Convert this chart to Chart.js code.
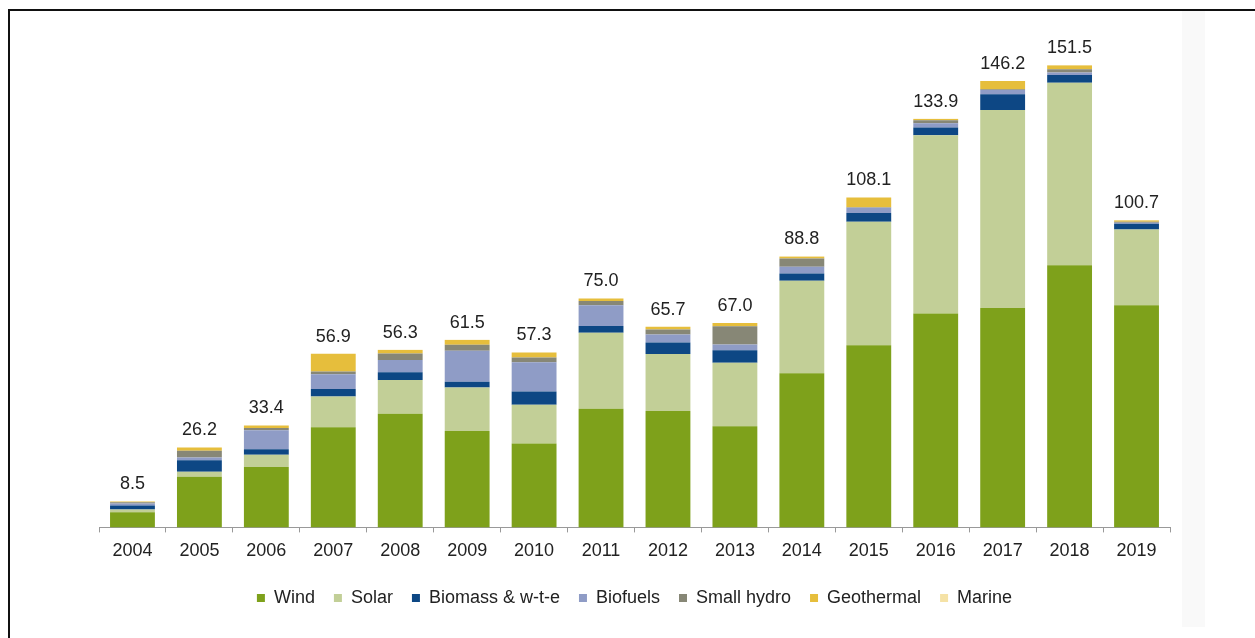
<!DOCTYPE html>
<html lang="en">
<head>
    <meta charset="UTF-8">
    <title>Investment by sector</title>
    <script src="https://cdn.jsdelivr.net/npm/chart.js"></script>
    <style>
        body { margin: 0; background: #fff; }
        .frame {
            position: absolute; left: 8px; top: 9px;
            width: 1300px; height: 700px;
            border: 2px solid #111;
        }
        .strip {
            position: absolute; left: 1182px; top: 11px;
            width: 23px; height: 616px;
            background: #f9f9f9;
        }
        .chart-box {
            position: absolute; left: 0; top: 0;
            width: 1255px; height: 638px;
        }
    </style>
</head>
<body>
    <div class="frame"></div>
    <div class="strip"></div>
    <div class="chart-box">
        <canvas id="sectorChart"></canvas>
    </div>

    <script>
        // values (USD bn)
        const years = ['2004', '2005', '2006', '2007', '2008', '2009', '2010', '2011',
                       '2012', '2013', '2014', '2015', '2016', '2017', '2018', '2019'];
        const wind       = [5.0, 16.6, 19.8, 32.8, 37.2, 31.6, 27.5, 38.9, 38.1, 33.1, 50.5, 59.7, 70.1, 71.9, 85.9, 72.8];
        const solar      = [0.9, 1.6, 4.0, 10.1, 11.1, 14.2, 12.7, 24.9, 18.7, 20.8, 30.3, 40.4, 58.4, 64.8, 59.8, 24.8];
        const biomass    = [1.3, 3.8, 1.8, 2.4, 2.5, 1.9, 4.3, 2.2, 3.8, 4.1, 2.4, 2.9, 2.5, 5.2, 2.5, 1.9];
        const biofuels   = [0.6, 0.9, 6.2, 4.9, 4.0, 10.2, 9.6, 6.8, 2.6, 1.9, 2.2, 1.7, 1.4, 1.4, 0.8, 0.3];
        const smallHydro = [0.4, 2.2, 0.8, 0.9, 2.2, 1.9, 1.6, 1.4, 1.6, 6.0, 2.7, 0.2, 1.0, 0.2, 1.1, 0.3];
        const geothermal = [0.3, 1.1, 0.8, 5.8, 1.1, 1.6, 1.6, 0.8, 0.9, 1.1, 0.6, 3.2, 0.4, 2.7, 1.2, 0.4];
        const marine     = [0, 0, 0, 0, 0.1, 0.1, 0, 0, 0, 0, 0.1, 0, 0.1, 0, 0.2, 0.2];
        const totalLabels = ['8.5', '26.2', '33.4', '56.9', '56.3', '61.5', '57.3', '75.0',
                             '65.7', '67.0', '88.8', '108.1', '133.9', '146.2', '151.5', '100.7'];

        const series = [
            { label: 'Wind', data: wind, color: '#7ea11b' },
            { label: 'Solar', data: solar, color: '#c2cf97' },
            { label: 'Biomass & w-t-e', data: biomass, color: '#0d4784' },
            { label: 'Biofuels', data: biofuels, color: '#8f9cc6' },
            { label: 'Small hydro', data: smallHydro, color: '#878776' },
            { label: 'Geothermal', data: geothermal, color: '#e6be3c' },
            { label: 'Marine', data: marine, color: '#f5e2a6' }
        ];

        const fontFamily = '"Liberation Sans", Arial, sans-serif';

        // totals written above each stack
        const totalsPlugin = {
            id: 'totals',
            afterDatasetsDraw(chart) {
                const ctx = chart.ctx;
                const y = chart.scales.y;
                const meta = chart.getDatasetMeta(0);
                ctx.save();
                ctx.font = '18px ' + fontFamily;
                ctx.fillStyle = '#222';
                ctx.textAlign = 'center';
                ctx.textBaseline = 'middle';
                years.forEach((yr, i) => {
                    const sum = series.reduce((s, d) => s + d.data[i], 0);
                    ctx.fillText(totalLabels[i], meta.data[i].x, y.getPixelForValue(sum) - 17);
                });
                ctx.restore();
            }
        };

        new Chart(document.getElementById('sectorChart'), {
            type: 'bar',
            data: {
                labels: years,
                datasets: series.map(s => ({
                    label: s.label,
                    data: s.data,
                    backgroundColor: s.color,
                    barPercentage: 0.67,
                    categoryPercentage: 1
                }))
            },
            options: {
                responsive: true,
                maintainAspectRatio: false,
                animation: false,
                layout: { padding: { left: 99, right: 85, top: 39, bottom: 21 } },
                scales: {
                    x: {
                        stacked: true,
                        grid: { drawOnChartArea: false, tickLength: 5, color: '#999' },
                        border: { color: '#999' },
                        ticks: {
                            color: '#222',
                            padding: 8,
                            font: { family: fontFamily, size: 18 }
                        }
                    },
                    y: { stacked: true, display: false, min: 0, max: 160 }
                },
                plugins: {
                    legend: {
                        position: 'bottom',
                        labels: {
                            boxWidth: 8,
                            boxHeight: 8,
                            padding: 19,
                            color: '#222',
                            font: { family: fontFamily, size: 18 }
                        }
                    },
                    tooltip: { enabled: false }
                }
            },
            plugins: [totalsPlugin]
        });
    </script>
</body>
</html>
